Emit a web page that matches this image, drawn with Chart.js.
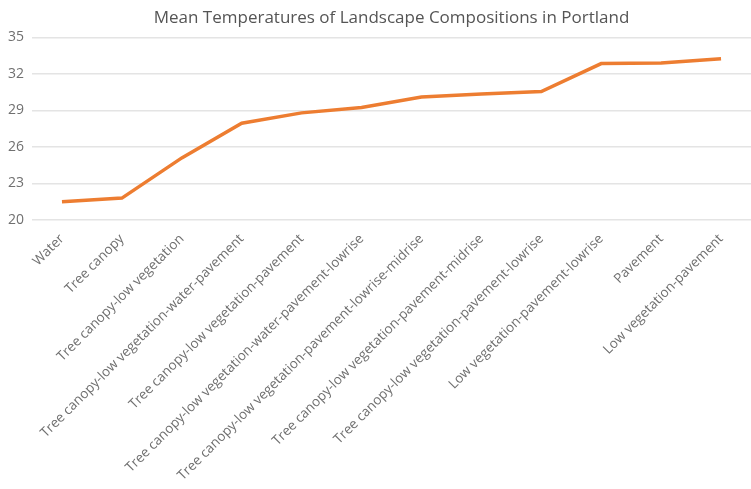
<!DOCTYPE html>
<html>
<head>
<meta charset="utf-8">
<script src="https://cdn.jsdelivr.net/npm/chart.js@4"></script>
<style>
  html, body { margin: 0; padding: 0; background: #fff; }
  #wrap { width: 751px; height: 489px; }
</style>
</head>
<body>
<div id="wrap"><canvas id="myChart" width="751" height="489"></canvas></div>
<script>
const categories = [
  'Water',
  'Tree canopy',
  'Tree canopy-low vegetation',
  'Tree canopy-low vegetation-water-pavement',
  'Tree canopy-low vegetation-pavement',
  'Tree canopy-low vegetation-water-pavement-lowrise',
  'Tree canopy-low vegetation-pavement-lowrise-midrise',
  'Tree canopy-low vegetation-pavement-midrise',
  'Tree canopy-low vegetation-pavement-lowrise',
  'Low vegetation-pavement-lowrise',
  'Pavement',
  'Low vegetation-pavement'
];
const meanTemps = [21.5, 21.8, 25.1, 27.95, 28.8, 29.25, 30.1, 30.35, 30.55, 32.85, 32.9, 33.25];
const yTicks = [20, 23, 26, 29, 32, 35];

const FONT = "'Open Sans', 'Noto Sans', sans-serif";

const data = {
  labels: categories,
  datasets: [{
    label: 'Mean temperature',
    data: meanTemps,
    borderColor: '#ED7D31',
    backgroundColor: '#ED7D31',
    borderWidth: 3.5,
    pointRadius: 0,
    pointHoverRadius: 0,
    tension: 0
  }]
};

const config = {
  type: 'line',
  data: data,
  options: {
    responsive: false,
    animation: false,
    layout: { padding: { left: 0, right: 0, top: 2, bottom: 4 } },
    scales: {
      x: {
        offset: true,
        grid: { display: false },
        border: { display: false },
        ticks: {
          autoSkip: false,
          maxRotation: 45,
          minRotation: 45,
          color: '#707070',
          font: { family: FONT, size: 13.5 }
        },
        // the layout caps the axis at half the height, the long labels need more
        afterFit: function (scale) {
          scale.height = 265;
        }
      },
      y: {
        min: yTicks[0],
        max: yTicks[yTicks.length - 1],
        afterBuildTicks: function (axis) {
          axis.ticks = yTicks.map(function (v) { return { value: v }; });
        },
        grid: { color: '#e4e4e4', lineWidth: 1.5, drawTicks: false },
        border: { display: false },
        ticks: {
          padding: 8,
          color: '#707070',
          font: { family: FONT, size: 14 }
        }
      }
    },
    plugins: {
      legend: { display: false },
      tooltip: { enabled: false },
      title: {
        display: true,
        fullSize: false,
        text: 'Mean Temperatures of Landscape Compositions in Portland',
        color: '#555555',
        font: { family: FONT, size: 17, weight: 'normal' },
        padding: { top: 6, bottom: 9 }
      }
    }
  }
};

var myChart = new Chart(document.getElementById('myChart'), config);
</script>
</body>
</html>
